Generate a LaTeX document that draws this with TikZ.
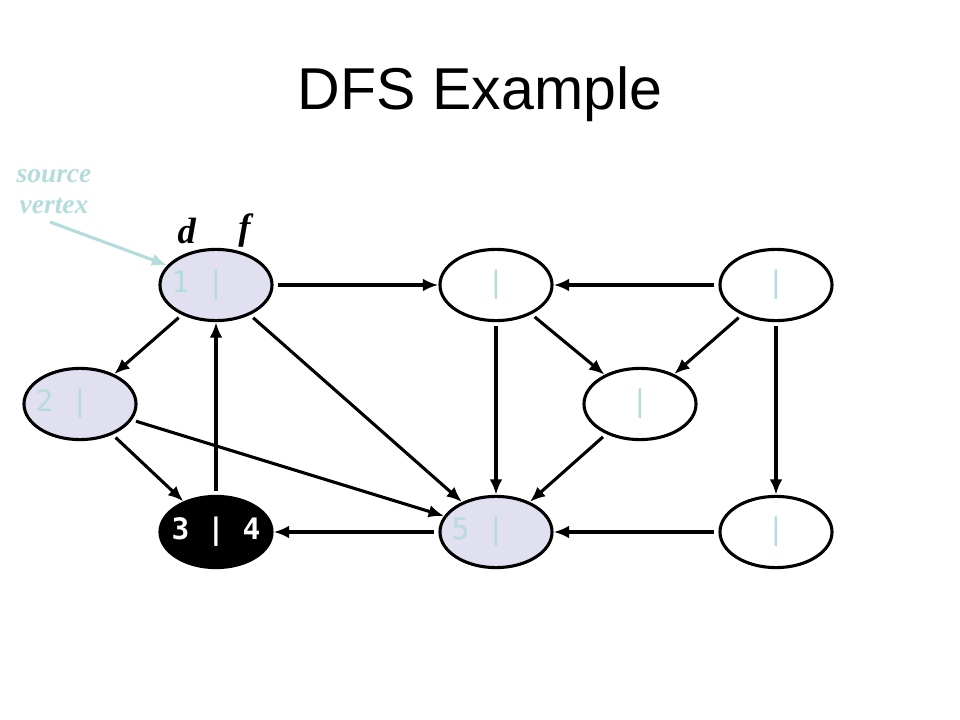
\documentclass[tikz,border=0pt]{standalone}
\usepackage{fontspec}
\setmainfont{Liberation Serif}
\newfontfamily\titlefont{Liberation Sans}
\newfontfamily\stampfont{DejaVu Sans Mono}
\usepackage{tikz}
\usetikzlibrary{shapes.geometric,arrows.meta}

\definecolor{pale}{HTML}{B4DCDC}
\definecolor{lavender}{HTML}{E0E0F0}
\newcommand{\stamp}[2]{\makebox[0pt]{\makebox[0.6em]{#1}\ |\ \makebox[0.6em]{#2}}}

\begin{document}
\begin{tikzpicture}[x=0.025cm,y=-0.025cm,
		vertex/.style={ellipse,draw,line width=2.2pt,minimum width=2.8cm,
			minimum height=1.78cm,inner sep=0pt,text=pale,
			font=\stampfont\fontsize{21}{24}\selectfont},
		visited/.style={vertex,fill=lavender},
		finished/.style={vertex,fill=black,text=white},
		edge/.style={line width=2.2pt,shorten <=3pt,-{Latex[length=11pt,width=9pt]}}]
		\useasboundingbox (0,0) rectangle (960,720);
		% title
		\node (title) at (480,94) {\titlefont\fontsize{42}{48}\selectfont DFS Example};
		% vertices
		\node[visited] (a) at (216,285) {\stamp{1}{}};
		\node[vertex] (b) at (496,285) {\stamp{}{}};
		\node[vertex] (c) at (776,285) {\stamp{}{}};
		\node[visited] (e) at (80,404) {\stamp{2}{}};
		\node[vertex] (g) at (640,404) {\stamp{}{}};
		\node[finished] (h) at (216,532) {\textbf{\stamp{3}{4}}};
		\node[visited] (i) at (496,532) {\stamp{5}{}};
		\node[vertex] (j) at (776,532) {\stamp{}{}};
		% labels
		\node (dlab) at (187,231) {\fontsize{26}{28}\selectfont\textbf{\textit{d}}};
		\node (flab) at (246,231) {\fontsize{26}{28}\selectfont\textbf{\textit{f}}};
		\node[text=pale,align=center,font=\fontsize{19.5}{22}\selectfont\bfseries\itshape]
			(src) at (54,192) {source\\vertex};
		\coordinate (srcstart) at (50,222);
		\draw[pale,line width=2.2pt,-{Latex[length=11pt,width=9pt]}] (srcstart) -- (a.158);
		% edges
		\draw[edge] (a) -- (b);
		\draw[edge] (c) -- (b);
		\draw[edge] (a) -- (e);
		\draw[edge] (e) -- (h);
		\draw[edge] (h) -- (a);
		\draw[edge] (a) -- (i);
		\draw[edge] (e) -- (i);
		\draw[edge] (b) -- (i);
		\draw[edge] (b) -- (g);
		\draw[edge] (c) -- (g);
		\draw[edge] (g) -- (i);
		\draw[edge] (c) -- (j);
		\draw[edge] (j) -- (i);
		\draw[edge] (i) -- (h);
\end{tikzpicture}
\end{document}
